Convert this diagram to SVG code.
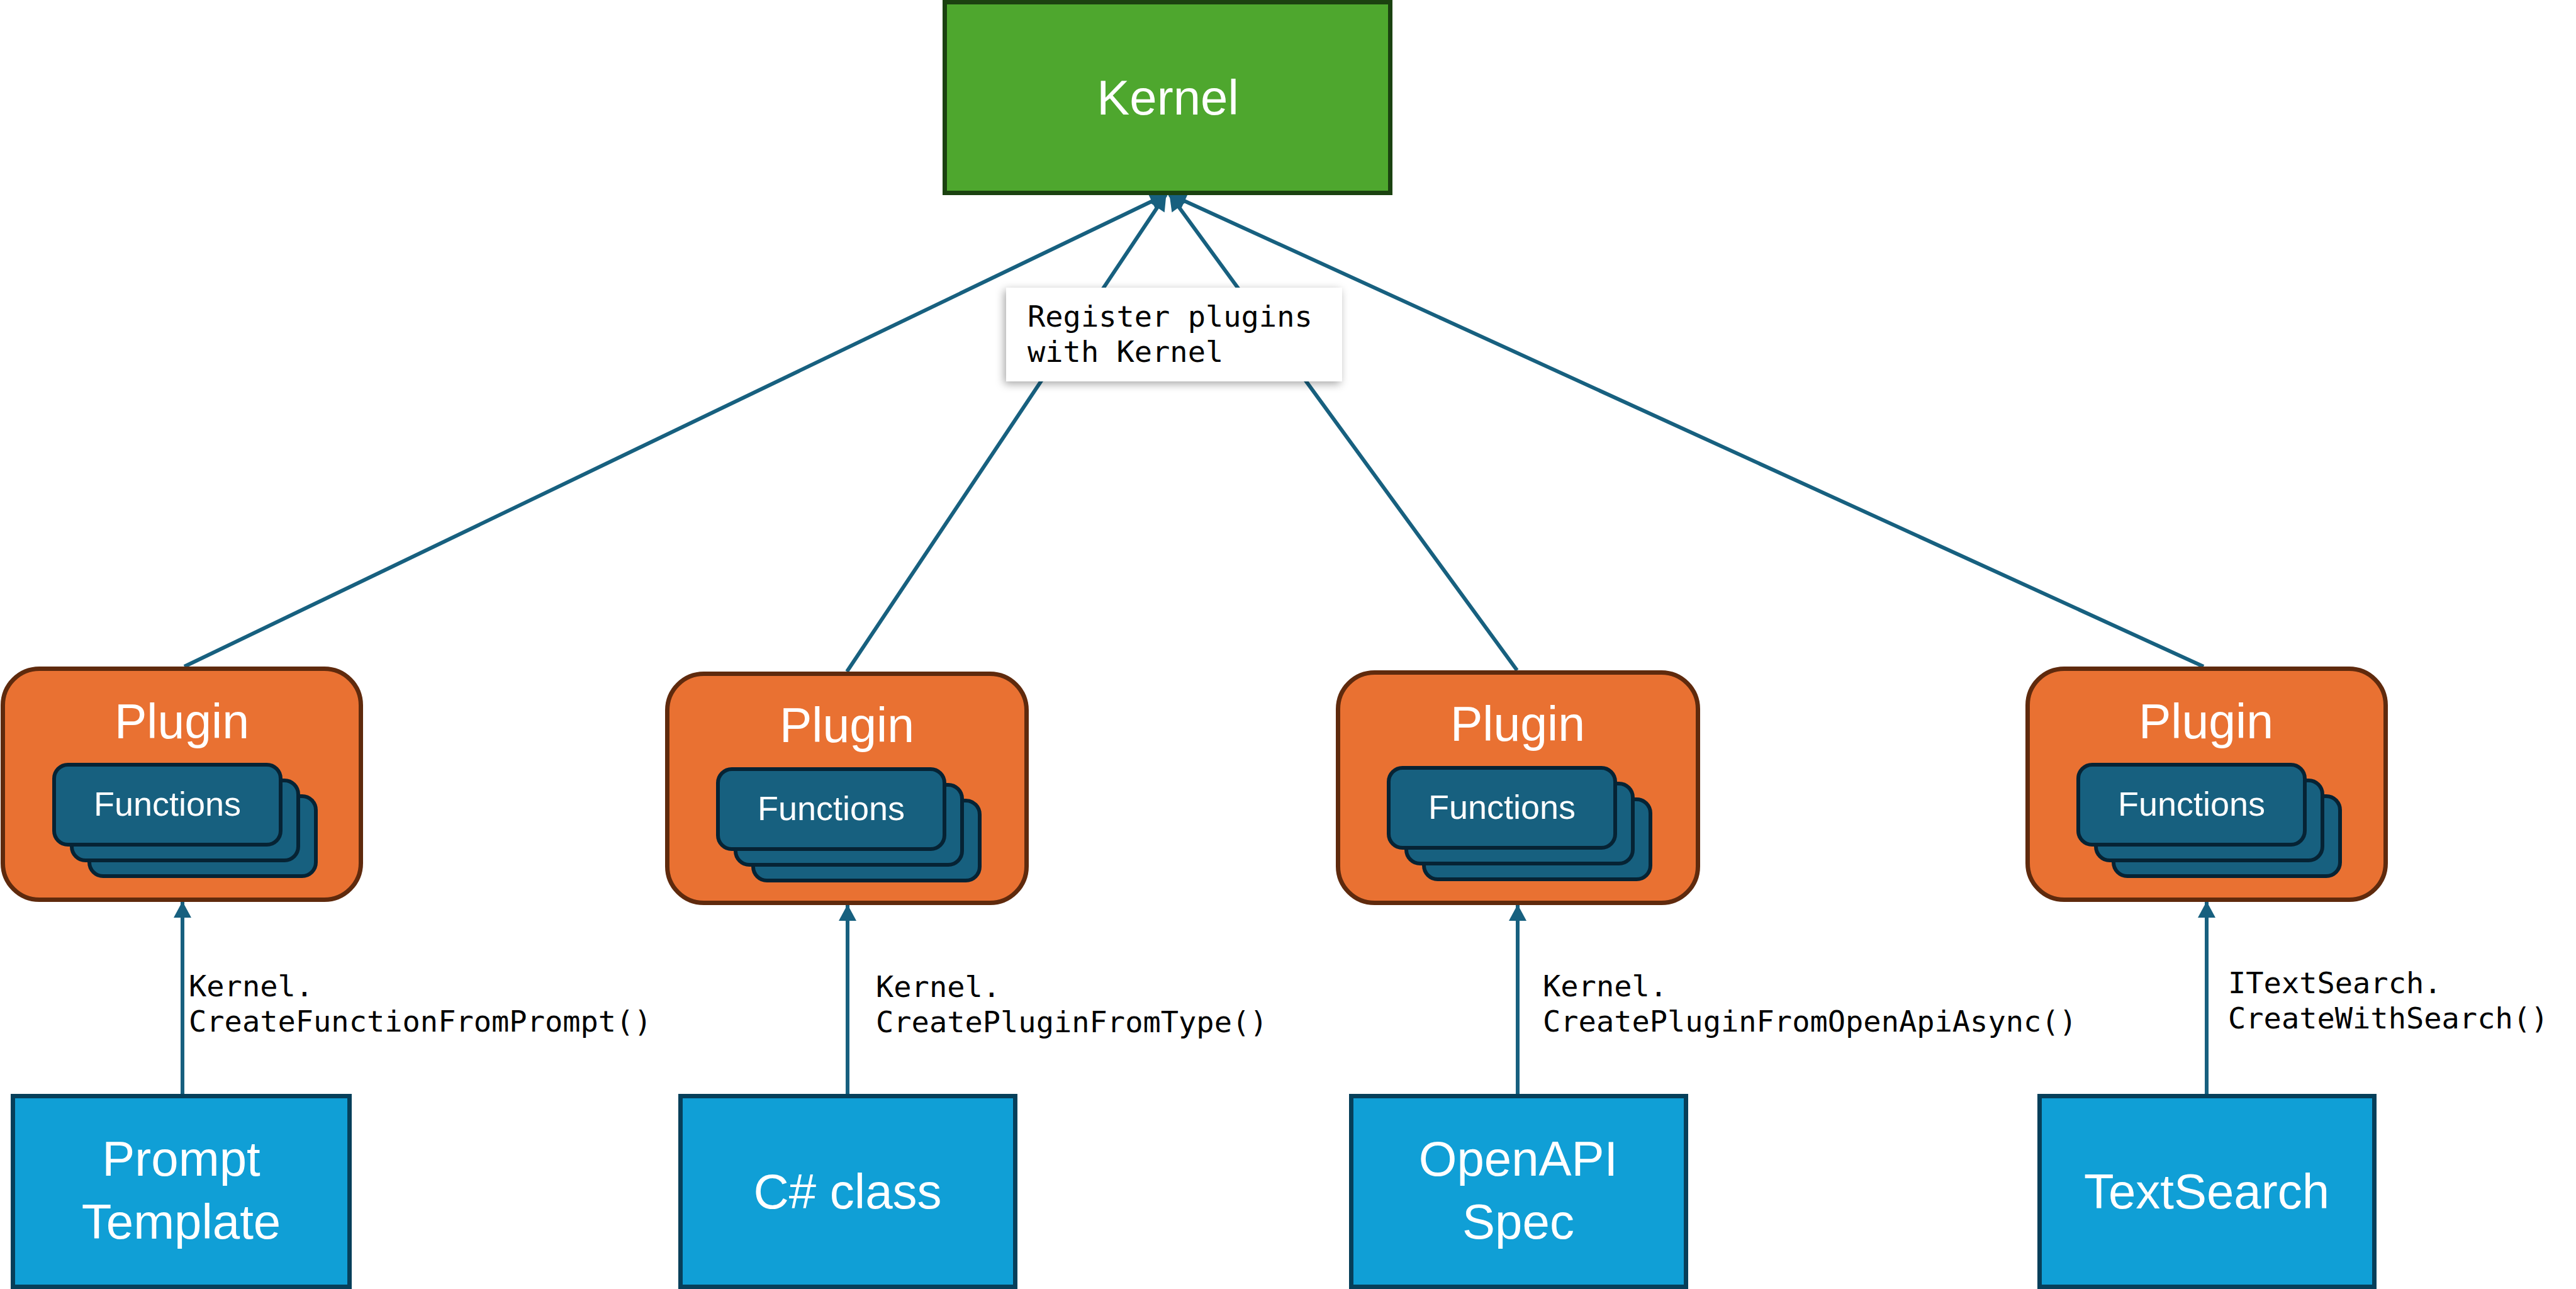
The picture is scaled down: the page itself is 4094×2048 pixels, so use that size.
<svg xmlns="http://www.w3.org/2000/svg" width="4094" height="2048" viewBox="0 0 4094 2048">
  <defs>
    <marker id="arrow" markerUnits="userSpaceOnUse" markerWidth="28" markerHeight="28" viewBox="0 0 26 28" refX="25" refY="14" orient="auto">
      <path d="M0,0 L26,14 L0,28 z" fill="#17607f"/>
    </marker>
    <filter id="shadow" x="-10%" y="-30%" width="120%" height="160%">
      <feDropShadow dx="-3" dy="4" stdDeviation="7" flood-color="#000" flood-opacity="0.35"/>
    </filter>
  </defs>
  <style>
    .kernel { fill: #4ea72e; stroke: #1b4210; stroke-width: 7; }
    .plugin { fill: #e97132; stroke: #5f2a0d; stroke-width: 7; }
    .card { fill: #17607f; stroke: #062334; stroke-width: 6; }
    .src { fill: #109fd6; stroke: #063f5a; stroke-width: 7; }
    .conn { stroke: #17607f; stroke-width: 6; fill: none; marker-end: url(#arrow); }
    .big { font-family: "Liberation Sans", Arial, sans-serif; fill: #ffffff; text-anchor: middle; }
    .fn { font-family: "Liberation Sans", Arial, sans-serif; fill: #ffffff; text-anchor: middle; font-size: 54px; }
    .mono { font-family: "DejaVu Sans Mono", "Liberation Mono", monospace; font-size: 47px; fill: #000000; }
  </style>
  <rect width="4094" height="2048" fill="#ffffff"/>

  <g id="connectors">
    <line class="conn" x1="293" y1="1059" x2="1853" y2="309"/>
    <line class="conn" x1="1346" y1="1067" x2="1853" y2="309"/>
    <line class="conn" x1="2411" y1="1065" x2="1859" y2="309"/>
    <line class="conn" x1="3502" y1="1059" x2="1860" y2="309"/>
    <line class="conn" x1="290" y1="1738" x2="290" y2="1433"/>
    <line class="conn" x1="1347" y1="1738" x2="1347" y2="1438"/>
    <line class="conn" x1="2412" y1="1738" x2="2412" y2="1438"/>
    <line class="conn" x1="3507" y1="1738" x2="3507" y2="1433"/>
  </g>

  <g id="kernel">
    <rect class="kernel" x="1501.5" y="3.5" width="708" height="303"/>
    <text class="big" x="1856" y="182" font-size="78">Kernel</text>
  </g>

  <g id="register-label">
    <rect x="1599" y="457" width="534" height="149" fill="#ffffff" filter="url(#shadow)"/>
    <text class="mono" x="1633" y="519">Register plugins</text>
    <text class="mono" x="1633" y="575">with Kernel</text>
  </g>

  <g id="plugin1">
    <rect class="plugin" x="4.5" y="1062.5" width="569" height="367" rx="58"/>
    <text class="big" x="289" y="1173" font-size="77">Plugin</text>
    <rect class="card" x="142" y="1265" width="360" height="127" rx="22"/>
    <rect class="card" x="114" y="1240" width="360" height="127" rx="22"/>
    <rect class="card" x="86" y="1215" width="360" height="127" rx="22"/>
    <text class="fn" x="266" y="1296">Functions</text>
  </g>

  <g id="plugin2">
    <rect class="plugin" x="1060.5" y="1070.5" width="571" height="364" rx="58"/>
    <text class="big" x="1346" y="1179" font-size="77">Plugin</text>
    <rect class="card" x="1197" y="1272" width="360" height="127" rx="22"/>
    <rect class="card" x="1169" y="1247" width="360" height="127" rx="22"/>
    <rect class="card" x="1141" y="1222" width="360" height="127" rx="22"/>
    <text class="fn" x="1321" y="1303">Functions</text>
  </g>

  <g id="plugin3">
    <rect class="plugin" x="2126.5" y="1068.5" width="572" height="366" rx="58"/>
    <text class="big" x="2412" y="1177" font-size="77">Plugin</text>
    <rect class="card" x="2263" y="1270" width="360" height="127" rx="22"/>
    <rect class="card" x="2235" y="1245" width="360" height="127" rx="22"/>
    <rect class="card" x="2207" y="1220" width="360" height="127" rx="22"/>
    <text class="fn" x="2387" y="1301">Functions</text>
  </g>

  <g id="plugin4">
    <rect class="plugin" x="3222.5" y="1062.5" width="569" height="367" rx="58"/>
    <text class="big" x="3506" y="1173" font-size="77">Plugin</text>
    <rect class="card" x="3359" y="1265" width="360" height="127" rx="22"/>
    <rect class="card" x="3331" y="1240" width="360" height="127" rx="22"/>
    <rect class="card" x="3303" y="1215" width="360" height="127" rx="22"/>
    <text class="fn" x="3483" y="1296">Functions</text>
  </g>

  <g id="label1">
    <text class="mono" x="300" y="1583">Kernel.</text>
    <text class="mono" x="300" y="1639">CreateFunctionFromPrompt()</text>
  </g>
  <g id="label2">
    <text class="mono" x="1392" y="1584">Kernel.</text>
    <text class="mono" x="1392" y="1640">CreatePluginFromType()</text>
  </g>
  <g id="label3">
    <text class="mono" x="2452" y="1583">Kernel.</text>
    <text class="mono" x="2452" y="1639">CreatePluginFromOpenApiAsync()</text>
  </g>
  <g id="label4">
    <text class="mono" x="3541" y="1578">ITextSearch.</text>
    <text class="mono" x="3541" y="1634">CreateWithSearch()</text>
  </g>

  <g id="prompt-template">
    <rect class="src" x="20.5" y="1741.5" width="535" height="303"/>
    <text class="big" x="288" y="1868" font-size="78">Prompt</text>
    <text class="big" x="288" y="1968" font-size="78">Template</text>
  </g>
  <g id="csharp-class">
    <rect class="src" x="1081.5" y="1741.5" width="532" height="303"/>
    <text class="big" x="1347" y="1920" font-size="78">C# class</text>
  </g>
  <g id="openapi-spec">
    <rect class="src" x="2147.5" y="1741.5" width="532" height="303"/>
    <text class="big" x="2413" y="1868" font-size="78">OpenAPI</text>
    <text class="big" x="2413" y="1968" font-size="78">Spec</text>
  </g>
  <g id="textsearch">
    <rect class="src" x="3241.5" y="1741.5" width="532" height="303"/>
    <text class="big" x="3507" y="1920" font-size="78">TextSearch</text>
  </g>
</svg>
